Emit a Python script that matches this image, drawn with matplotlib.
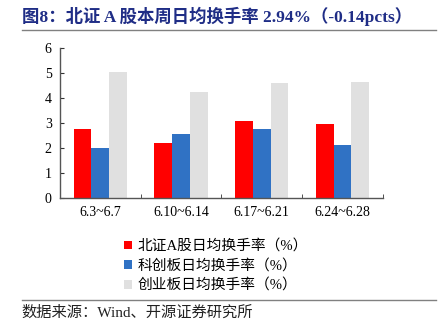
import matplotlib
matplotlib.use("Agg")
import numpy as np
import matplotlib.pyplot as plt
from matplotlib.lines import Line2D
from matplotlib.patches import Patch

plt.rcParams['font.family'] = ['Liberation Serif', 'Noto Sans CJK SC']

weeks = ['6.3~6.7', '6.10~6.14', '6.17~6.21', '6.24~6.28']
bse_a = [2.76, 2.19, 3.08, 2.94]
star = [2.00, 2.55, 2.75, 2.13]
chinext = [5.04, 4.25, 4.59, 4.63]

series_names = ['北证A股日均换手率（%）', '科创板日均换手率（%）', '创业板日均换手率（%）']
colors = ['#FF0000', '#3072C4', '#E0E0E0']

fig = plt.figure(figsize=(4.38, 3.31), dpi=100)
ax = fig.add_axes([0.137, 0.402, 0.737, 0.453])

x = np.arange(len(weeks))
w = 0.22
for i, (vals, c) in enumerate(zip([bse_a, star, chinext], colors)):
    ax.bar(x + (i - 1) * w, vals, width=w, color=c, zorder=2)

ax.set_xlim(-0.5, len(weeks) - 0.5)
ax.set_ylim(0, 6)
ax.set_yticks(range(0, 7))
ax.set_xticks(x)
ax.set_xticklabels(weeks, fontsize=10)
ax.set_xticks(np.arange(-0.5, len(weeks)), minor=True)
ax.tick_params(axis='x', which='major', length=0, pad=6)
ax.tick_params(axis='x', which='minor', direction='in', length=3, color='#333333')
ax.tick_params(axis='y', direction='in', length=3, labelsize=10, pad=6, color='#333333')
for s in ['top', 'right']:
    ax.spines[s].set_visible(False)
for s in ['left', 'bottom']:
    ax.spines[s].set_color('#555555')
    ax.spines[s].set_linewidth(1.0)

handles = [Patch(facecolor=c, edgecolor='none') for c in colors]
fig.legend(handles, series_names, loc='upper left', bbox_to_anchor=(0.27, 0.295),
           frameon=False, fontsize=10.6, handlelength=0.55, handleheight=0.55,
           handletextpad=0.35, labelspacing=0.4, borderaxespad=0)

# title and rules
fig.text(0.05, 0.952, '图8：北证 A 股本周日均换手率 2.94%（-0.14pcts）', fontsize=12.5,
         fontweight='bold', color='#1F2D86', va='center', ha='left')
fig.add_artist(Line2D([0.05, 0.995], [0.909, 0.909], color='#808080', lw=1.0))
fig.add_artist(Line2D([0.05, 0.995], [0.094, 0.094], color='#808080', lw=1.0))
fig.text(0.05, 0.055, '数据来源：Wind、开源证券研究所', fontsize=11, color='#222222',
         va='center', ha='left')

fig.savefig('out.png', dpi=100)
